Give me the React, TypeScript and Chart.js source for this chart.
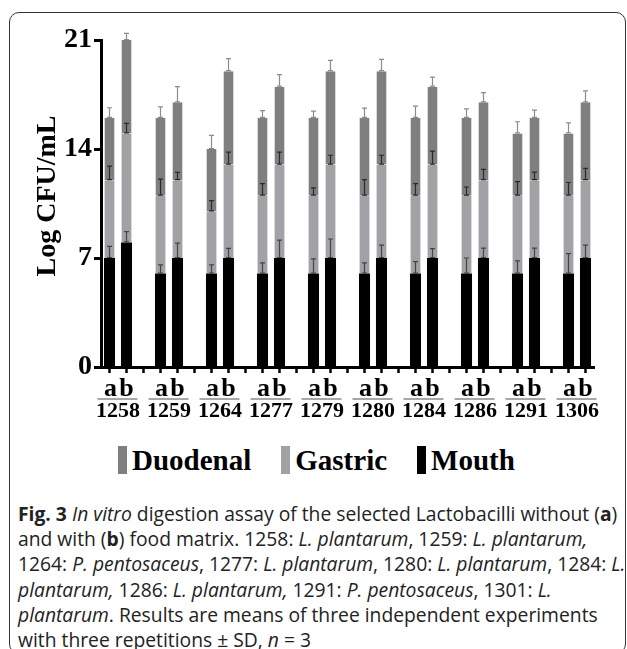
import React, { useEffect, useRef } from "react";
import { Chart, registerables } from "chart.js";

Chart.register(...registerables);

// Strains (groups); each has bar "a" (without food matrix) and "b" (with food matrix)
const groups = ["1258", "1259", "1264", "1277", "1279", "1280", "1284", "1286", "1291", "1306"];

// Segment heights (Log CFU/mL)
const mouthA = [7, 6, 6, 6, 6, 6, 6, 6, 6, 6];
const mouthB = [8, 7, 7, 7, 7, 7, 7, 7, 7, 7];
const gastricA = [5, 5, 4, 5, 5, 5, 5, 5, 5, 5];
const gastricB = [7, 5, 6, 6, 6, 6, 6, 5, 5, 5];
const duodenalA = [4, 5, 4, 5, 5, 5, 5, 5, 4, 4];
const duodenalB = [6, 5, 6, 5, 6, 6, 5, 5, 4, 5];

// Upper SD of each segment top
const mouthSdA = [0.75, 0.56, 0.56, 0.69, 0.95, 0.69, 0.77, 1.0, 0.82, 1.28];
const mouthSdB = [0.69, 0.96, 0.62, 1.15, 1.22, 0.83, 0.6, 0.64, 0.64, 0.83];
const gastricSdA = [0.9, 1.07, 0.69, 0.77, 0.5, 1.03, 0.77, 0.56, 0.9, 0.85];
const gastricSdB = [0.64, 0.5, 0.8, 0.8, 0.6, 0.6, 0.86, 0.69, 0.51, 0.75];
const duodenalSdA = [0.65, 0.7, 0.87, 0.47, 0.43, 0.62, 0.75, 0.58, 0.75, 0.68];
const duodenalSdB = [0.43, 1.0, 0.8, 0.77, 0.69, 0.75, 0.62, 0.62, 0.5, 0.73];

const yTicks = [0, 7, 14, 21];
const seriesNames = ["Mouth", "Gastric", "Duodenal"];
const seriesColors = ["#000000", "#a2a2a6", "#7f7f7f"];
const errColors = ["#444444", "#2a2a2a", "#8c8c8c"];
const yTitle = "Log CFU/mL";

const SERIF = "'Liberation Serif', 'Times New Roman', serif";

// Build slots: a, b, gap for each group (no gap after the last)
function slots<T>(a: T[], b: T[]): (T | null)[] {
  const out: (T | null)[] = [];
  groups.forEach((_, i) => {
    out.push(a[i], b[i]);
    if (i < groups.length - 1) out.push(null);
  });
  return out;
}
const slotLabels = slots(
  groups.map((g) => g + "a"),
  groups.map((g) => g + "b")
).map((l, i) => (l == null ? "gap" + i : l));

const segData = [slots(mouthA, mouthB), slots(gastricA, gastricB), slots(duodenalA, duodenalB)];
const segSd = [slots(mouthSdA, mouthSdB), slots(gastricSdA, gastricSdB), slots(duodenalSdA, duodenalSdB)];

const CANVAS_W = 627;
const CANVAS_H = 430;
const AREA_LEFT = 101;
const AREA_RIGHT = 594;
const AREA_TOP = 40;
const AREA_BOTTOM = 367;

const errorBarPlugin = {
  id: "errorBars",
  afterDatasetsDraw(chart: any) {
    const ctx = chart.ctx;
    const y = chart.scales.y;
    const unit = y.getPixelForValue(0) - y.getPixelForValue(1);
    ctx.save();
    chart.data.datasets.forEach((ds: any, di: number) => {
      const meta = chart.getDatasetMeta(di);
      meta.data.forEach((el: any, i: number) => {
        const sd = segSd[di][i];
        if (sd == null || ds.data[i] == null) return;
        const x = el.x;
        const top = el.y;
        const end = top - sd * unit;
        ctx.strokeStyle = errColors[di];
        ctx.lineWidth = 1.2;
        ctx.beginPath();
        ctx.moveTo(x, top);
        ctx.lineTo(x, end);
        ctx.moveTo(x - 2.5, end);
        ctx.lineTo(x + 2.5, end);
        ctx.moveTo(x - 2.5, top - 0.5);
        ctx.lineTo(x + 2.5, top - 0.5);
        ctx.stroke();
      });
    });
    ctx.restore();
  },
};

const labelPlugin = {
  id: "groupLabels",
  afterDraw(chart: any) {
    const ctx = chart.ctx;
    const x = chart.scales.x;
    ctx.save();
    groups.forEach((g, i) => {
      const xa = x.getPixelForValue(i * 3);
      const xb = x.getPixelForValue(i * 3 + 1);
      ctx.fillStyle = "#000";
      ctx.textAlign = "center";
      ctx.textBaseline = "alphabetic";
      ctx.font = `bold 26px ${SERIF}`;
      ctx.fillText("a", xa + 1, 396);
      ctx.fillText("b", xb, 396);
      ctx.strokeStyle = "#8a8a8a";
      ctx.lineWidth = 1.5;
      ctx.beginPath();
      ctx.moveTo(xa - 12, 399);
      ctx.lineTo(xb + 11, 399);
      ctx.stroke();
      ctx.font = `bold 22px ${SERIF}`;
      ctx.fillText(g, (xa + xb) / 2, 417);
    });
    // y-axis title
    ctx.translate(48, 196);
    ctx.rotate(-Math.PI / 2);
    ctx.font = `bold 28px ${SERIF}`;
    ctx.textAlign = "center";
    ctx.textBaseline = "middle";
    ctx.fillStyle = "#000";
    ctx.fillText(yTitle, 0, 0);
    ctx.restore();
  },
};

export default function App() {
  const ref = useRef<HTMLCanvasElement>(null);

  useEffect(() => {
    if (!ref.current) return;
    const chart = new Chart(ref.current, {
      type: "bar",
      data: {
        labels: slotLabels,
        datasets: seriesNames.map((name, di) => ({
          label: name,
          data: segData[di] as any,
          backgroundColor: seriesColors[di],
          borderWidth: di === 0 ? 0 : { left: 1, right: 1, top: 0, bottom: 0 },
          borderColor: "rgba(215,215,215,0.9)",
          barPercentage: 0.65,
          categoryPercentage: 1,
          stack: "s",
        })),
      },
      options: {
        animation: false,
        responsive: false,
        maintainAspectRatio: false,
        devicePixelRatio: 1,
        layout: { padding: { top: AREA_TOP, right: CANVAS_W - AREA_RIGHT, left: 0, bottom: 0 } },
        plugins: { legend: { display: false }, tooltip: { enabled: false }, title: { display: false } },
        scales: {
          x: {
            stacked: true,
            offset: true,
            grid: {
              offset: false,
              drawOnChartArea: false,
              drawTicks: true,
              tickLength: 6,
              tickWidth: 2.5,
              tickColor: "#000",
            },
            border: { display: true, width: 3, color: "#000" },
            ticks: { display: false, autoSkip: false },
            afterFit: (s: any) => {
              s.height = CANVAS_H - AREA_BOTTOM;
            },
          },
          y: {
            stacked: true,
            min: 0,
            max: 21,
            afterBuildTicks: (s: any) => {
              s.ticks = yTicks.map((v) => ({ value: v }));
            },
            grid: {
              drawOnChartArea: false,
              drawTicks: true,
              tickLength: 7,
              tickWidth: 3,
              tickColor: "#000",
            },
            border: { display: true, width: 3, color: "#000" },
            ticks: {
              padding: 2,
              color: "#000",
              font: { family: SERIF, size: 28, weight: "bold" },
            },
            afterFit: (s: any) => {
              s.width = AREA_LEFT;
            },
          },
        },
      },
      plugins: [errorBarPlugin, labelPlugin],
    });
    return () => chart.destroy();
  }, []);

  const legendOrder = [2, 1, 0];

  return (
    <div
      style={{
        position: "fixed",
        left: 0,
        top: 0,
        width: 627,
        height: 649,
        background: "#fff",
        overflow: "hidden",
      }}
    >
      <div
        style={{
          position: "absolute",
          left: 9,
          top: 12,
          width: 617,
          height: 642,
          border: "1.5px solid #333",
          borderRadius: 10,
          boxSizing: "border-box",
        }}
      />
      <canvas
        ref={ref}
        width={CANVAS_W}
        height={CANVAS_H}
        style={{ position: "absolute", left: 0, top: 0, width: CANVAS_W, height: CANVAS_H }}
      />
      <div
        style={{
          position: "absolute",
          left: 118,
          top: 443,
          display: "flex",
          alignItems: "center",
          fontFamily: SERIF,
          fontWeight: "bold",
          fontSize: 29,
          lineHeight: "34px",
          color: "#000",
          whiteSpace: "nowrap",
        }}
      >
        {legendOrder.map((di, k) => (
          <div key={di} style={{ display: "flex", alignItems: "center", marginLeft: k === 0 ? 0 : 30 }}>
            <div style={{ width: 9, height: 28, background: seriesColors[di], marginRight: 5 }} />
            <span>{seriesNames[di]}</span>
          </div>
        ))}
      </div>
      <div
        style={{
          position: "absolute",
          left: 18,
          top: 501,
          fontFamily: "'Open Sans', 'Noto Sans', sans-serif",
          fontSize: 19.3,
          lineHeight: "25.2px",
          color: "#222",
          whiteSpace: "nowrap",
        }}
      >
        <div>
          <b>Fig. 3</b> <i>In vitro</i> digestion assay of the selected Lactobacilli without (<b>a</b>)
        </div>
        <div>
          and with (<b>b</b>) food matrix. 1258: <i>L. plantarum</i>, 1259: <i>L. plantarum,</i>
        </div>
        <div>
          1264: <i>P. pentosaceus</i>, 1277: <i>L. plantarum</i>, 1280: <i>L. plantarum</i>, 1284: <i>L.</i>
        </div>
        <div>
          <i>plantarum,</i> 1286: <i>L. plantarum,</i> 1291: <i>P. pentosaceus</i>, 1301: <i>L.</i>
        </div>
        <div>
          <i>plantarum</i>. Results are means of three independent experiments
        </div>
        <div>
          with three repetitions ± SD, <i>n</i> = 3
        </div>
      </div>
    </div>
  );
}
